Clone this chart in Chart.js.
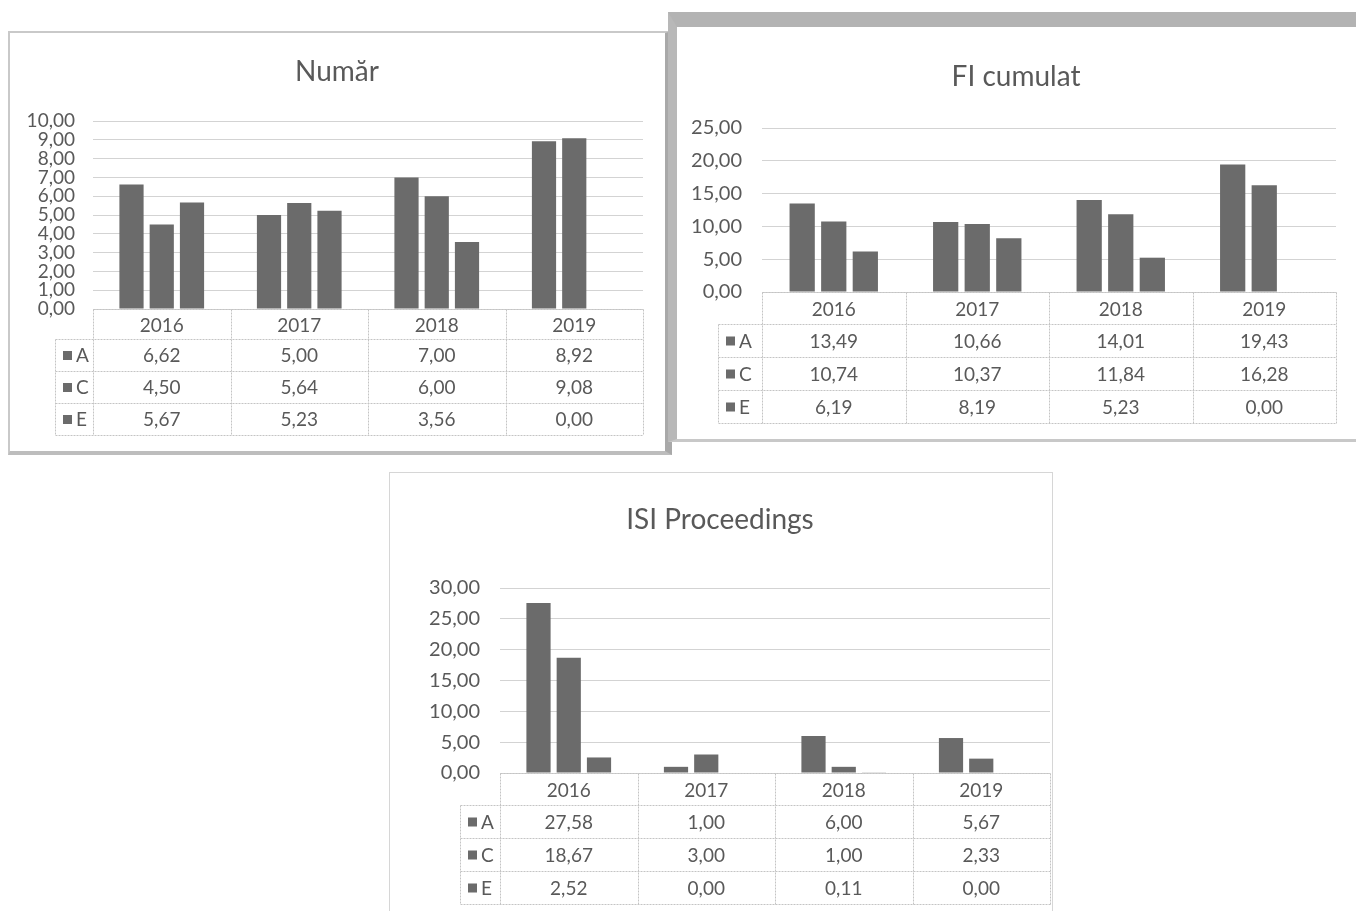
<!DOCTYPE html>
<html>
<head>
<meta charset="utf-8">
<script src="https://cdn.jsdelivr.net/npm/chart.js@4"></script>
<style>
  html, body { margin: 0; padding: 0; background: #ffffff; }
  body { width: 1356px; height: 911px; position: relative; overflow: hidden; font-family: Lato, "Open Sans", sans-serif; }
  .frame { position: absolute; box-sizing: border-box; }
  .box { position: absolute; }
  .box canvas { display: block; }
  .ttl { position: absolute; width: 400px; margin-left: -200px; text-align: center; font-size: 28px; line-height: 34px; height: 34px; margin-top: -17px; color: #595959; white-space: nowrap; }
</style>
</head>
<body>
<div class="frame" style="left:8px;top:31px;width:664px;height:424px;border:2px solid #c9c9c9;border-right:7px solid #a9a9a9;border-bottom:4px solid #bdbdbd;"></div>
<div class="frame" style="left:668px;top:12px;width:700px;height:430px;border-top:15px solid #b3b3b3;border-left:9px solid #b8b8b8;border-bottom:3px solid #c8c8c8;"></div>
<div class="frame" style="left:389px;top:472px;width:664px;height:450px;border:1px solid #d6d6d6;"></div>

<div class="box" style="left:12px;top:35px;width:650px;height:415px;"><canvas id="c1"></canvas></div>
<div class="box" style="left:680px;top:30px;width:670px;height:405px;"><canvas id="c2"></canvas></div>
<div class="box" style="left:392px;top:475px;width:660px;height:436px;"><canvas id="c3"></canvas></div>

<div class="ttl" id="t1" style="left:337px;top:70px;"></div>
<div class="ttl" id="t2" style="left:1016px;top:75px;"></div>
<div class="ttl" id="t3" style="left:720px;top:518px;"></div>

<script>
// ---------- data ----------
const years = ['2016', '2017', '2018', '2019'];
const seriesNames = ['A', 'C', 'E'];

const numarA = [6.62, 5.00, 7.00, 8.92];
const numarC = [4.50, 5.64, 6.00, 9.08];
const numarE = [5.67, 5.23, 3.56, 0.00];

const fiA = [13.49, 10.66, 14.01, 19.43];
const fiC = [10.74, 10.37, 11.84, 16.28];
const fiE = [6.19, 8.19, 5.23, 0.00];

const isiA = [27.58, 1.00, 6.00, 5.67];
const isiC = [18.67, 3.00, 1.00, 2.33];
const isiE = [2.52, 0.00, 0.11, 0.00];

const titles = ['Număr', 'FI cumulat', 'ISI Proceedings'];

// ---------- styling ----------
const barColor = '#6b6b6b';
const textColor = '#595959';
const gridColor = '#d3d3d3';
const FONT = 'Lato, "Open Sans", sans-serif';

function fmt(v) { return v.toFixed(2).replace('.', ','); }

const tablePlugin = {
  id: 'dataTable',
  afterDraw(chart, args, o) {
    const { ctx, chartArea } = chart;
    const x = chart.scales.x;
    const n = chart.data.labels.length;
    const cw = (x.right - x.left) / n;
    const top = chartArea.bottom;
    const hh = o.headerH, rh = o.rowH;
    const legL = o.legendLeft;
    const rows = chart.data.datasets.length;
    const bottom = top + hh + rows * rh;
    ctx.save();
    ctx.strokeStyle = '#c4c4c4';
    ctx.lineWidth = 1;
    ctx.setLineDash([2, 1]);
    const line = (x1, y1, x2, y2) => { ctx.beginPath(); ctx.moveTo(Math.round(x1) + 0.5, Math.round(y1) + 0.5); ctx.lineTo(Math.round(x2) + 0.5, Math.round(y2) + 0.5); ctx.stroke(); };
    line(x.left, top, x.right, top);
    for (let r = 0; r <= rows; r++) {
      const yy = top + hh + r * rh;
      line(legL, yy, x.right, yy);
    }
    for (let i = 0; i <= n; i++) {
      const xx = x.left + i * cw;
      line(xx, top, xx, bottom);
    }
    line(legL, top + hh, legL, bottom);
    ctx.setLineDash([]);
    ctx.fillStyle = textColor;
    ctx.textAlign = 'center';
    ctx.textBaseline = 'middle';
    ctx.font = o.fontSize + 'px ' + FONT;
    chart.data.labels.forEach((lab, i) => {
      ctx.fillText(lab, x.left + (i + 0.5) * cw, top + hh / 2 + 2);
    });
    chart.data.datasets.forEach((ds, r) => {
      const cy = top + hh + (r + 0.5) * rh;
      ctx.fillStyle = ds.backgroundColor;
      ctx.fillRect(legL + 8, cy - 4, 9, 9);
      ctx.fillStyle = textColor;
      ctx.textAlign = 'left';
      ctx.fillText(ds.label, legL + 21, cy + 1);
      ctx.textAlign = 'center';
      ds.data.forEach((v, i) => {
        ctx.fillText(fmt(v), x.left + (i + 0.5) * cw, cy + 1);
      });
    });
    ctx.restore();
  }
};

function makeChart(id, title, a, c, e, yMax, yStep, g) {
  document.getElementById(g.titleId).textContent = title;
  const sets = [a, c, e].map((d, i) => ({
    label: seriesNames[i],
    data: d,
    backgroundColor: barColor,
    borderWidth: 0,
    barPercentage: 0.8,
    categoryPercentage: g.catPct
  }));
  return new Chart(document.getElementById(id), {
    type: 'bar',
    data: { labels: years, datasets: sets },
    plugins: [tablePlugin],
    options: {
      responsive: true,
      maintainAspectRatio: false,
      animation: false,
      layout: { padding: { top: g.padTop, right: g.padRight, bottom: g.padBottom, left: 0 } },
      plugins: {
        legend: { display: false },
        tooltip: { enabled: false },
        title: { display: false },
        dataTable: { headerH: g.headerH, rowH: g.rowH, legendLeft: g.legendLeft, fontSize: g.tableFont }
      },
      scales: {
        x: { display: false },
        y: {
          min: 0, max: yMax,
          afterFit(s) { s.width = g.yWidth; },
          ticks: {
            stepSize: yStep,
            autoSkip: false,
            color: textColor,
            padding: g.tickPad,
            font: { family: FONT, size: g.tickFont, lineHeight: 1 },
            callback: v => fmt(v)
          },
          grid: { color: gridColor, drawTicks: false },
          border: { display: false }
        }
      }
    }
  });
}

makeChart('c1', titles[0], numarA, numarC, numarE, 10, 1, {
  titleId: 't1', catPct: 0.66, padTop: 86, padRight: 19, padBottom: 141,
  headerH: 30, rowH: 32, legendLeft: 43, tableFont: 19, yWidth: 81, tickPad: 18, tickFont: 19
});
makeChart('c2', titles[1], fiA, fiC, fiE, 25, 5, {
  titleId: 't2', catPct: 0.66, padTop: 98, padRight: 14, padBottom: 143,
  headerH: 32, rowH: 33, legendLeft: 38, tableFont: 19, yWidth: 82, tickPad: 20, tickFont: 20
});
makeChart('c3', titles[2], isiA, isiC, isiE, 30, 5, {
  titleId: 't3', catPct: 0.66, padTop: 113, padRight: 2, padBottom: 138,
  headerH: 32, rowH: 33, legendLeft: 68, tableFont: 19, yWidth: 108, tickPad: 20, tickFont: 20
});
</script>
</body>
</html>
